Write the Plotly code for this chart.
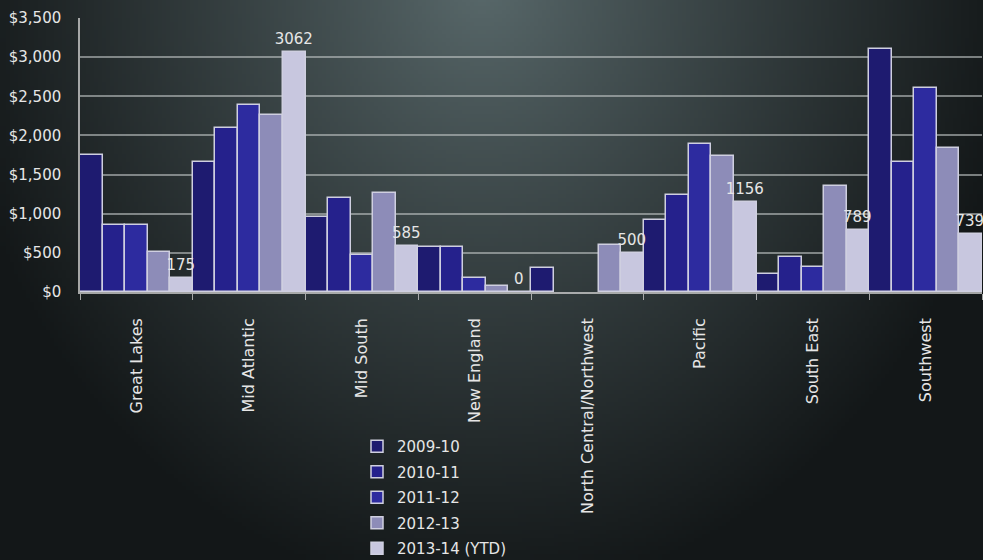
import base64
import struct
import zlib

import numpy as np
import plotly.graph_objects as go

categories = ["Great Lakes", "Mid Atlantic", "Mid South", "New England",
              "North Central/Northwest", "Pacific", "South East", "Southwest"]
series_names = ["2009-10", "2010-11", "2011-12", "2012-13", "2013-14 (YTD)"]
v_2009_10 = [1750, 1660, 960, 580, 310, 920, 230, 3100]
v_2010_11 = [850, 2100, 1195, 570, None, 1240, 450, 1655]
v_2011_12 = [850, 2390, 475, 180, None, 1885, 315, 2600]
v_2012_13 = [510, 2260, 1260, 80, 600, 1740, 1355, 1845]
v_2013_14 = [175, 3062, 585, 0, 500, 1156, 789, 739]
y_ticks = [0, 500, 1000, 1500, 2000, 2500, 3000, 3500]
y_tick_labels = ["$0", "$500", "$1,000", "$1,500", "$2,000", "$2,500", "$3,000", "$3,500"]

series_values = [v_2009_10, v_2010_11, v_2011_12, v_2012_13, v_2013_14]
colors = ["#1e1b70", "#25218c", "#2d2b9f", "#8d8cb8", "#c8c7df"]

W, H = 983, 560
ML, MR, MT, MB = 80, 1, 18, 268
PW, PH = W - ML - MR, H - MT - MB


# ---- background gradient image (radial, lighter at top centre) ----
def make_png(arr):
    h, w, _ = arr.shape
    raw = b"".join(b"\x00" + arr[r].tobytes() for r in range(h))

    def chunk(tag, data):
        c = struct.pack(">I", len(data)) + tag + data
        return c + struct.pack(">I", zlib.crc32(tag + data) & 0xFFFFFFFF)

    return (b"\x89PNG\r\n\x1a\n"
            + chunk(b"IHDR", struct.pack(">IIBBBBB", w, h, 8, 2, 0, 0, 0))
            + chunk(b"IDAT", zlib.compress(raw, 9))
            + chunk(b"IEND", b""))


gw, gh = 246, 140
yy, xx = np.mgrid[0:gh, 0:gw]
px = xx * (W / gw)
py = yy * (H / gh)
d = np.sqrt(((px - 480) / 540.0) ** 2 + ((py + 20) / 620.0) ** 2)
t = np.clip(d, 0, 1) ** 0.9
c0 = np.array([0x5a, 0x6a, 0x6c], dtype=float)
c1 = np.array([0x13, 0x17, 0x18], dtype=float)
img = (c0[None, None, :] * (1 - t[..., None]) + c1[None, None, :] * t[..., None]).astype(np.uint8)
bg_src = "data:image/png;base64," + base64.b64encode(make_png(img)).decode()

FONT = "DejaVu Sans"
TXT = "#e6e6e6"

fig = go.Figure()
for i, (name, vals) in enumerate(zip(series_names, series_values)):
    is_last = i == len(series_names) - 1
    fig.add_trace(go.Bar(
        x=categories,
        y=vals,
        name=name,
        legendgroup=name,
        marker=dict(color=colors[i], line=dict(color="#cfcfe0", width=1.5)),
        text=[("" if v is None else str(v)) for v in vals] if is_last else None,
        textposition="outside" if is_last else None,
        constraintext="none",
        textfont=dict(family=FONT, size=15, color=TXT),
        cliponaxis=False,
    ))

fig.update_layout(
    width=W, height=H,
    margin=dict(l=ML, r=MR, t=MT, b=MB, autoexpand=False),
    paper_bgcolor="#1a1e1f",
    plot_bgcolor="rgba(0,0,0,0)",
    barmode="group",
    bargap=0,
    bargroupgap=0,
    font=dict(family=FONT, size=15, color=TXT),
    showlegend=True,
    legend=dict(
        orientation="v",
        x=(357 - ML) / PW, xanchor="left",
        y=(292 - 430) / PH, yanchor="top",
        font=dict(family=FONT, size=15, color=TXT),
        bgcolor="rgba(0,0,0,0)",
        tracegroupgap=3,
    ),
    images=[dict(
        source=bg_src,
        xref="paper", yref="paper",
        x=-ML / PW, y=1 + MT / PH,
        sizex=W / PW, sizey=H / PH,
        xanchor="left", yanchor="top",
        sizing="stretch",
        layer="below",
    )],
)

fig.update_yaxes(
    range=[0, 3500],
    tickvals=y_ticks,
    ticktext=y_tick_labels,
    showgrid=True,
    gridcolor="rgba(190,195,195,0.6)",
    gridwidth=1.5,
    showline=True,
    linecolor="rgba(200,200,200,0.8)",
    linewidth=1.5,
    zeroline=False,
    ticks="",
    ticklabelstandoff=14,
    tickfont=dict(family=FONT, size=15, color=TXT),
)
fig.update_xaxes(
    showgrid=False,
    showline=True,
    linecolor="rgba(200,200,200,0.8)",
    linewidth=1.5,
    ticks="outside",
    tickson="boundaries",
    ticklen=6,
    tickcolor="rgba(200,200,200,0.8)",
    tickangle=-90,
    ticklabelstandoff=18,
    tickfont=dict(family=FONT, size=16, color=TXT),
)

fig.write_html("out.html")
